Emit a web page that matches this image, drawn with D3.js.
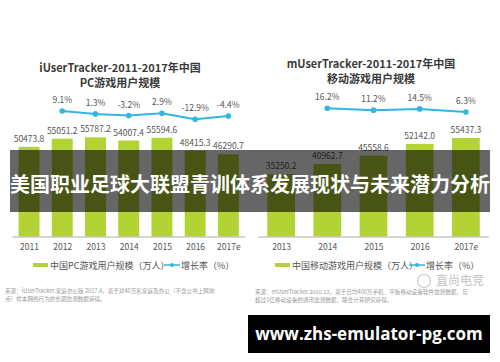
<!DOCTYPE html>
<html>
<head>
<meta charset="utf-8">
<script src="https://cdn.jsdelivr.net/npm/d3@7"></script>
<style>
  body { margin: 0; background: #fff; }
  svg { display: block; font-family: "Noto Sans CJK SC", "Noto Sans", sans-serif; }
</style>
</head>
<body>
<div id="chart"></div>
<script>
// left chart: PC game users
const pcYears = ["2011", "2012", "2013", "2014", "2015", "2016", "2017e"];
const pcUsers = [50473.8, 55051.2, 55787.2, 54007.4, 55594.6, 48415.3, 46290.7];
const pcGrowth = [null, 9.1, 1.3, -3.2, 2.9, -12.9, -4.4];

// right chart: mobile game users
const mYears = ["2013", "2014", "2015", "2016", "2017e"];
const mUsers = [35250.2, 40962.7, 45558.6, 52142.0, 55437.3];
const mGrowth = [null, 16.2, 11.2, 14.5, 6.3];

const green = "#b3d234", blue = "#33b6e2", txt = "#555";

const svg = d3.select("#chart").append("svg")
  .attr("width", 500)
  .attr("height", 362);

svg.append("rect").attr("width", 500).attr("height", 362).attr("fill", "#fff");

// shared value scales
const yBar = d3.scaleLinear().domain([0, 56000]).range([237, 137]);
const yRate = d3.scaleLinear().domain([-20, 20]).range([122, 106.8]);

function drawChart(opt) {
  const x = d3.scalePoint().domain(opt.years).range(opt.range).padding(0.5);
  const bw = x.step() * opt.barRatio;
  const g = svg.append("g");

  // title
  g.selectAll(".title")
    .data(opt.title)
    .enter().append("text")
    .attr("x", opt.titleX)
    .attr("y", (d, i) => opt.titleY + i * 15)
    .attr("text-anchor", "middle")
    .attr("font-size", 11)
    .attr("font-weight", "bold")
    .attr("fill", "#3a3a3a")
    .text(d => d);

  // bars
  g.selectAll(".bar")
    .data(opt.users)
    .enter().append("rect")
    .attr("x", (d, i) => x(opt.years[i]) - bw / 2)
    .attr("y", d => yBar(d))
    .attr("width", bw)
    .attr("height", d => yBar(0) - yBar(d))
    .attr("fill", green);

  g.selectAll(".val")
    .data(opt.users)
    .enter().append("text")
    .attr("x", (d, i) => x(opt.years[i]))
    .attr("y", d => yBar(d) - 5)
    .attr("text-anchor", "middle")
    .attr("font-size", 8.5)
    .attr("fill", txt)
    .text(d => d.toFixed(1));

  // axis
  const xAxis = d3.axisBottom(x).tickSize(0).tickPadding(7);
  const ax = g.append("g")
    .attr("transform", "translate(0," + yBar(0) + ")")
    .call(xAxis);
  ax.select(".domain").attr("stroke", "#c8c8c8").attr("stroke-width", 1.5)
    .attr("d", "M" + opt.range[0] + ",0H" + opt.range[1]);
  ax.selectAll("text").attr("font-size", 8.5).attr("fill", txt)
    .attr("font-family", "Noto Sans CJK SC");

  // growth line
  const pts = opt.growth.map((v, i) => ({ year: opt.years[i], v: v })).filter(d => d.v !== null);
  g.append("path")
    .datum(pts)
    .attr("fill", "none")
    .attr("stroke", blue)
    .attr("stroke-width", 2)
    .attr("d", d3.line().x(d => x(d.year)).y(d => yRate(d.v)));
  g.selectAll(".pt")
    .data(pts)
    .enter().append("circle")
    .attr("cx", d => x(d.year))
    .attr("cy", d => yRate(d.v))
    .attr("r", 2.8)
    .attr("fill", blue);
  g.selectAll(".rate")
    .data(pts)
    .enter().append("text")
    .attr("x", d => x(d.year))
    .attr("y", d => yRate(d.v) - 8)
    .attr("text-anchor", "middle")
    .attr("font-size", 8.5)
    .attr("fill", txt)
    .text(d => d.v.toFixed(1) + "%");

  // legend
  const lg = g.append("g").attr("transform", "translate(" + opt.legendX + ",265)");
  lg.append("rect").attr("x", 0).attr("y", -2).attr("width", 15).attr("height", 4).attr("fill", green);
  lg.append("text").attr("x", 17).attr("y", 3.5).attr("font-size", 9).attr("fill", txt).text(opt.legend);
  lg.append("line").attr("x1", opt.legendGap).attr("x2", opt.legendGap + 16)
    .attr("stroke", blue).attr("stroke-width", 1.5);
  lg.append("circle").attr("cx", opt.legendGap + 8).attr("r", 2).attr("fill", blue);
  lg.append("text").attr("x", opt.legendGap + 17).attr("y", 3.5).attr("font-size", 9).attr("fill", txt).text("增长率（%）");

  // source note
  g.selectAll(".src")
    .data(opt.source)
    .enter().append("text")
    .attr("x", opt.sourceX)
    .attr("y", (d, i) => opt.sourceY + i * 7.5)
    .attr("font-size", 5.6)
    .attr("fill", "#9a9a9a")
    .text(d => d);
}

drawChart({
  years: pcYears, users: pcUsers, growth: pcGrowth,
  range: [12.4, 245], barRatio: 0.63,
  title: ["iUserTracker-2011-2017年中国", "PC游戏用户规模"], titleX: 120, titleY: 72,
  legend: "中国PC游戏用户规模（万人）", legendX: 33, legendGap: 131,
  source: ["来源：iUserTracker.家庭办公版 2017.4，基于对40万名家庭及办公（不含公共上网地",
           "点）样本网络行为的长期监测数据获得。"],
  sourceX: 5, sourceY: 293
});

drawChart({
  years: mYears, users: mUsers, growth: mGrowth,
  range: [258, 489], barRatio: 0.6,
  title: ["mUserTracker-2011-2017年中国", "移动游戏用户规模"], titleX: 371, titleY: 68,
  legend: "中国移动游戏用户规模（万人）", legendX: 275, legendGap: 134,
  source: ["来源：mUserTracker.2016.12，基于日均400万手机、平板移动设备软件监测数据，与",
           "超过1亿移动设备的通讯监测数据，联合计算研究获得。"],
  sourceX: 255, sourceY: 294
});

// watermark
const wm = svg.append("g").attr("transform", "translate(424,281)").attr("opacity", 0.6);
wm.append("circle").attr("r", 6.5).attr("fill", "none").attr("stroke", "#aaa").attr("stroke-width", 1.2);
wm.append("text").attr("x", 12).attr("y", 4.3).attr("font-size", 12).attr("fill", "#999").text("直尚电竞");

// overlay headline banner
svg.append("rect").attr("x", 10).attr("y", 150).attr("width", 480).attr("height", 62)
  .attr("fill", "rgba(0,0,0,0.6)");
svg.append("text").attr("x", 250).attr("y", 192).attr("text-anchor", "middle")
  .attr("font-size", 20).attr("font-weight", "bold").attr("fill", "#fff")
  .text("美国职业足球大联盟青训体系发展现状与未来潜力分析");

// url banner
svg.append("rect").attr("x", 248).attr("y", 315).attr("width", 242).attr("height", 38).attr("fill", "#000");
svg.append("text").attr("x", 369).attr("y", 340).attr("text-anchor", "middle")
  .attr("font-family", "Open Sans").attr("font-size", 17).attr("font-weight", "bold").attr("fill", "#fff")
  .text("www.zhs-emulator-pg.com");
</script>
</body>
</html>
